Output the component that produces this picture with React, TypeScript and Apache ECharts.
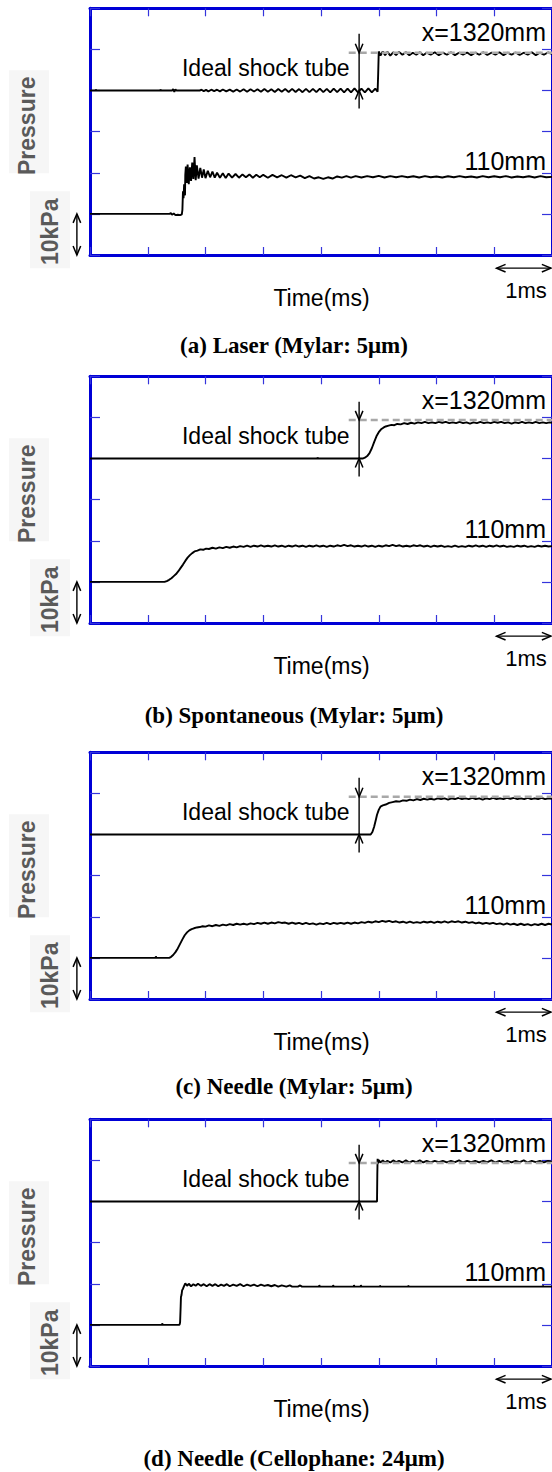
import React, { useEffect, useRef } from "react";
import * as echarts from "echarts";

// ---------- axes (time in ms, pressure in kPa) ----------
const X_MIN = 0, X_MAX = 8, X_STEP = 1;
const Y_MIN = 0, Y_MAX = 60, Y_STEP = 10;

// ---------- labels ----------
const captions = [
  "(a) Laser (Mylar: 5\u03bcm)",
  "(b) Spontaneous (Mylar: 5\u03bcm)",
  "(c) Needle (Mylar: 5\u03bcm)",
  "(d) Needle (Cellophane: 24\u03bcm)",
];
const farLabel = "x=1320mm";
const nearLabel = "110mm";
const idealLabel = "Ideal shock tube";
const xName = "Time(ms)";
const yName = "Pressure";
const yScaleLabel = "10kPa";
const xScaleLabel = "1ms";

// ideal shock tube pressure level (kPa) per panel and its start time
const idealLevels = [49.2, 49.4, 49.2, 49.4];
const idealStart = 4.48;
const idealArrowT = 4.66;
const idealArrowTop = 53.8;
const idealArrowBottom = 35.6;
// scale arrows
const kPaArrow = [-0.227, 0, -0.227, 10];
const msArrow = [7.04, -3.2, 7.98, -3.2];

// ---------- traces [time ms, pressure kPa] ----------
const laserHigh = [[0,40],[0.1,40],[0.1,40.3],[0.11,40],[1.22,40],[1.22,40.3],[1.23,40],[1.42,40],[1.44,40.35],[1.46,39.7],[1.48,40.3],[1.5,40],
[1.9,40],[1.93,40.2],[1.97,39.85],[2.01,40.15],[2.05,39.8],[2.1,40.2],[2.15,39.85],[2.2,40.2],[2.25,39.8],[2.3,40.25],[2.36,39.8],[2.42,40.2],[2.48,39.75],[2.54,40.25],[2.6,39.75],[2.66,40.3],[2.72,39.7],[2.78,40.3],[2.84,39.75],[2.9,40.3],[2.96,39.7],[3.02,40.35],[3.08,39.7],[3.14,40.3],[3.2,39.65],[3.26,40.35],[3.32,39.7],[3.38,40.35],[3.44,39.65],[3.5,40.4],[3.56,39.65],[3.62,40.35],[3.68,39.6],[3.74,40.4],[3.8,39.6],[3.86,40.4],[3.92,39.6],[3.98,40.45],[4.04,39.6],[4.1,40.4],[4.16,39.55],[4.22,40.45],[4.28,39.6],[4.34,40.45],[4.4,39.55],[4.46,40.45],[4.52,39.55],[4.58,40.5],[4.64,39.55],[4.7,40.45],[4.76,39.55],[4.82,40.5],[4.88,39.55],[4.94,40.45],[4.98,39.7],
[4.99,44],[5.0,49.5],[5.03,48.5],[5.07,49.5],[5.11,48.6],[5.15,49.4],[5.2,48.5],[5.25,49.3],[5.3,48.6],[5.35,49.4],[5.41,48.7],[5.47,49.3],[5.53,48.6],[5.59,49.2],[5.65,48.7],[5.71,49.3],[5.77,48.6],[5.83,49.2],[5.9,48.7],[5.97,49.3],[6.04,48.6],[6.11,49.2],[6.18,48.7],[6.25,49.3],[6.32,48.6],[6.39,49.2],[6.46,48.7],[6.53,49.25],[6.6,48.6],[6.67,49.2],[6.74,48.7],[6.81,49.3],[6.88,48.65],[6.95,49.2],[7.02,48.7],[7.09,49.3],[7.16,48.6],[7.23,49.2],[7.3,48.7],[7.37,49.25],[7.44,48.65],[7.51,49.2],[7.58,48.7],[7.65,49.3],[7.72,48.6],[7.79,49.2],[7.86,48.7],[7.93,49.25],[8,48.9]];

const laserLow = [[0,10],[1.38,10],[1.4,10.2],[1.42,9.8],[1.45,10.1],[1.48,9.7],[1.52,9.8],[1.56,9.7],[1.59,9.9],[1.6,11],[1.61,15.5],[1.62,13.8],[1.63,17.2],[1.645,14.5],[1.65,19.5],[1.66,21.5],[1.675,17.5],[1.69,22],[1.71,17.2],[1.73,21.3],[1.75,18],[1.77,22.5],[1.79,18.5],[1.81,23.8],[1.83,18.2],[1.85,21.8],[1.88,18.6],[1.91,21.2],[1.94,18.8],[1.97,20.8],[2.0,18.7],[2.04,20.5],[2.08,18.9],[2.12,20.3],[2.16,18.8],[2.2,20.0],[2.25,18.8],[2.3,19.9],[2.35,18.7],[2.4,19.8],[2.46,18.8],[2.52,19.7],[2.58,18.8],[2.64,19.6],[2.7,18.9],[2.76,19.6],[2.82,18.8],[2.88,19.5],[2.94,18.9],[3.0,19.5],[3.08,18.8],[3.16,19.5],[3.24,18.9],[3.32,19.4],[3.4,18.8],[3.48,19.4],[3.56,18.9],[3.64,19.3],[3.72,18.7],[3.8,19.2],[3.88,18.6],[3.96,18.9],[4.04,18.5],[4.12,18.9],[4.2,18.6],[4.28,19.1],[4.36,18.8],[4.44,19.2],[4.52,18.8],[4.6,19.2],[4.7,18.85],[4.8,19.2],[4.9,18.9],[5.0,19.25],[5.1,18.85],[5.2,19.2],[5.3,18.9],[5.4,19.2],[5.5,18.9],[5.6,19.15],[5.7,18.85],[5.8,19.2],[5.9,18.9],[6.0,19.1],[6.1,18.85],[6.2,19.15],[6.3,18.9],[6.4,19.2],[6.5,18.9],[6.6,19.1],[6.7,18.85],[6.8,19.2],[6.9,18.9],[7.0,19.15],[7.1,18.9],[7.2,19.2],[7.3,18.85],[7.4,19.1],[7.5,18.9],[7.6,19.15],[7.7,18.85],[7.8,19.2],[7.9,18.9],[8,19.0]];

const spontHigh = [[0,40],[3.94,40],[3.94,40.3],[3.95,40],[4.72,40],[4.76,40.2],[4.8,40.6],[4.84,41.3],[4.88,42.5],[4.92,44.0],[4.96,45.4],[5.0,46.4],[5.04,47.1],[5.08,47.5],[5.12,47.8],[5.17,48.0],[5.22,48.2],[5.27,48.1],[5.32,48.4],[5.38,48.3],[5.44,48.6],[5.5,48.4],[5.56,48.7],[5.62,48.5],[5.68,48.8],[5.74,48.6],[5.8,48.9],[5.86,48.6],[5.92,48.8],[5.98,48.6],[6.04,48.9],[6.1,48.7],[6.16,48.9],[6.22,48.6],[6.28,48.8],[6.34,48.6],[6.4,48.9],[6.46,48.6],[6.52,48.8],[6.58,48.5],[6.64,48.8],[6.7,48.6],[6.76,48.9],[6.82,48.6],[6.88,48.8],[6.94,48.6],[7.0,48.9],[7.06,48.7],[7.12,48.9],[7.18,48.6],[7.24,48.8],[7.3,48.5],[7.36,48.8],[7.42,48.6],[7.48,48.9],[7.54,48.6],[7.6,48.8],[7.66,48.6],[7.72,48.9],[7.78,48.6],[7.84,48.8],[7.9,48.6],[7.96,48.8],[8,48.7]];

const spontLow = [[0,10],[1.29,10],[1.33,10.2],[1.37,10.5],[1.41,10.9],[1.45,11.4],[1.49,11.9],[1.53,12.6],[1.57,13.4],[1.61,14.2],[1.65,15.1],[1.69,15.9],[1.73,16.5],[1.77,17.0],[1.81,17.4],[1.86,17.6],[1.91,17.9],[1.96,17.8],[2.01,18.1],[2.06,18.0],[2.12,18.3],[2.18,18.1],[2.24,18.4],[2.3,18.2],[2.36,18.5],[2.42,18.3],[2.48,18.6],[2.54,18.4],[2.6,18.7],[2.66,18.5],[2.72,18.8],[2.78,18.5],[2.84,18.8],[2.9,18.6],[2.96,18.9],[3.02,18.6],[3.08,18.8],[3.14,18.6],[3.2,18.9],[3.26,18.6],[3.32,18.8],[3.38,18.5],[3.44,18.8],[3.5,18.6],[3.56,18.9],[3.62,18.6],[3.68,18.8],[3.74,18.5],[3.8,18.8],[3.86,18.6],[3.92,18.9],[3.98,18.6],[4.04,18.8],[4.1,18.5],[4.16,18.8],[4.22,18.6],[4.28,18.9],[4.34,18.7],[4.4,19.0],[4.46,18.7],[4.52,18.9],[4.58,18.6],[4.64,18.8],[4.7,18.6],[4.76,18.9],[4.82,18.6],[4.88,18.8],[4.94,18.5],[5.0,18.8],[5.06,18.6],[5.12,18.9],[5.18,18.7],[5.24,19.0],[5.3,18.7],[5.36,18.9],[5.42,18.6],[5.48,18.8],[5.54,18.6],[5.6,18.9],[5.66,18.7],[5.72,18.9],[5.78,18.6],[5.84,18.8],[5.9,18.5],[5.96,18.8],[6.02,18.6],[6.08,18.8],[6.14,18.5],[6.2,18.7],[6.26,18.5],[6.32,18.8],[6.38,18.5],[6.44,18.7],[6.5,18.5],[6.56,18.8],[6.62,18.6],[6.68,18.9],[6.74,18.6],[6.8,18.8],[6.86,18.5],[6.92,18.8],[6.98,18.6],[7.04,18.9],[7.1,18.6],[7.16,18.8],[7.22,18.5],[7.28,18.7],[7.34,18.5],[7.4,18.8],[7.46,18.6],[7.52,18.8],[7.58,18.5],[7.64,18.7],[7.7,18.5],[7.76,18.8],[7.82,18.6],[7.88,18.8],[7.94,18.6],[8,18.7]];

const needleHigh = [[0,40],[4.86,40],[4.89,40.6],[4.92,41.9],[4.95,43.6],[4.97,44.8],[5.0,46.0],[5.03,46.8],[5.07,47.1],[5.12,47.3],[5.18,47.7],[5.24,47.9],[5.3,48.1],[5.36,48.0],[5.42,48.3],[5.48,48.2],[5.54,48.5],[5.6,48.3],[5.66,48.6],[5.72,48.4],[5.78,48.7],[5.84,48.5],[5.9,48.7],[5.96,48.5],[6.02,48.8],[6.08,48.6],[6.14,48.8],[6.2,48.5],[6.26,48.8],[6.32,48.6],[6.38,48.9],[6.44,48.6],[6.5,48.8],[6.56,48.6],[6.62,48.9],[6.68,48.6],[6.74,48.8],[6.8,48.5],[6.86,48.8],[6.92,48.6],[6.98,48.9],[7.04,48.6],[7.1,48.8],[7.16,48.6],[7.22,48.9],[7.28,48.7],[7.34,48.9],[7.4,48.6],[7.46,48.8],[7.52,48.6],[7.58,48.9],[7.64,48.6],[7.7,48.8],[7.76,48.6],[7.82,48.9],[7.88,48.6],[7.94,48.8],[8,48.7]];

const needleLow = [[0,10],[1.14,10],[1.14,10.4],[1.15,10],[1.37,10],[1.4,10.2],[1.44,10.7],[1.48,11.4],[1.52,12.3],[1.56,13.4],[1.6,14.5],[1.64,15.5],[1.68,16.2],[1.72,16.7],[1.76,17.0],[1.8,17.2],[1.85,17.4],[1.9,17.5],[1.95,17.7],[2.0,17.6],[2.06,17.9],[2.12,17.7],[2.18,18.0],[2.24,17.8],[2.3,18.1],[2.36,17.9],[2.42,18.2],[2.48,18.0],[2.54,18.3],[2.6,18.1],[2.66,18.3],[2.72,18.1],[2.78,18.4],[2.84,18.2],[2.9,18.5],[2.96,18.3],[3.02,18.6],[3.08,18.3],[3.14,18.6],[3.2,18.4],[3.26,18.7],[3.32,18.5],[3.38,18.6],[3.44,18.3],[3.5,18.6],[3.56,18.3],[3.62,18.5],[3.68,18.2],[3.74,18.5],[3.8,18.2],[3.86,18.4],[3.92,18.1],[3.98,18.4],[4.04,18.2],[4.1,18.5],[4.16,18.2],[4.22,18.5],[4.28,18.3],[4.34,18.5],[4.4,18.3],[4.46,18.6],[4.52,18.3],[4.58,18.6],[4.64,18.4],[4.7,18.7],[4.76,18.5],[4.82,18.8],[4.88,18.6],[4.94,18.9],[5.0,18.7],[5.06,19.0],[5.12,18.8],[5.18,19.0],[5.24,18.7],[5.3,18.9],[5.36,18.6],[5.42,18.8],[5.48,18.5],[5.54,18.8],[5.6,18.5],[5.66,18.7],[5.72,18.5],[5.78,18.8],[5.84,18.6],[5.9,18.8],[5.96,18.5],[6.02,18.8],[6.08,18.6],[6.14,18.9],[6.2,18.6],[6.26,18.9],[6.32,18.7],[6.38,18.9],[6.44,18.6],[6.5,18.8],[6.56,18.5],[6.62,18.7],[6.68,18.4],[6.74,18.6],[6.8,18.3],[6.86,18.5],[6.92,18.3],[6.98,18.5],[7.04,18.2],[7.1,18.4],[7.16,18.1],[7.22,18.4],[7.28,18.1],[7.34,18.3],[7.4,18.0],[7.46,18.3],[7.52,18.0],[7.58,18.2],[7.64,17.9],[7.7,18.2],[7.76,18.0],[7.82,18.3],[7.88,18.0],[7.94,18.3],[8,18.1]];

const cellHigh = [[0,40],[4.97,40],[4.975,46.5],[4.98,50.4],[4.99,49.3],[5.0,50.1],[5.03,49.5],[5.07,50.0],[5.11,49.5],[5.15,49.9],[5.2,49.5],[5.25,50.0],[5.3,49.6],[5.35,49.9],[5.41,49.5],[5.47,50.0],[5.53,49.5],[5.59,49.9],[5.65,49.6],[5.71,50.0],[5.77,49.5],[5.83,49.9],[5.9,49.5],[5.97,49.9],[6.04,49.6],[6.11,49.9],[6.18,49.5],[6.25,49.9],[6.32,49.6],[6.39,50.0],[6.46,49.5],[6.53,49.9],[6.6,49.6],[6.67,49.9],[6.74,49.5],[6.81,49.9],[6.88,49.6],[6.95,50.0],[7.02,49.5],[7.09,49.9],[7.16,49.6],[7.23,49.9],[7.3,49.5],[7.37,49.9],[7.44,49.6],[7.51,50.0],[7.58,49.5],[7.65,49.9],[7.72,49.6],[7.79,49.9],[7.86,49.5],[7.93,49.9],[8,49.7]];

const cellLow = [[0,10],[1.25,10],[1.25,10.4],[1.26,10],[1.55,10],[1.56,10.6],[1.57,14.5],[1.575,16.8],[1.585,17.3],[1.595,18.4],[1.61,18.8],[1.63,19.5],[1.65,20.1],[1.68,19.5],[1.71,20.0],[1.75,19.4],[1.79,19.9],[1.83,19.5],[1.87,20.0],[1.92,19.5],[1.97,19.9],[2.02,19.4],[2.07,19.9],[2.12,19.5],[2.17,19.9],[2.22,19.4],[2.27,19.8],[2.32,19.5],[2.37,19.9],[2.42,19.4],[2.48,19.8],[2.54,19.5],[2.6,19.9],[2.66,19.4],[2.72,19.8],[2.78,19.5],[2.84,19.8],[2.9,19.4],[2.96,19.8],[3.02,19.5],[3.08,19.7],[3.14,19.4],[3.2,19.7],[3.26,19.3],[3.32,19.6],[3.4,19.3],[3.46,19.6],[3.5,19.3],[3.6,19.3],[3.64,19.6],[3.67,19.3],[3.97,19.3],[3.97,19.7],[3.98,19.3],[4.21,19.3],[4.21,19.7],[4.22,19.3],[4.57,19.3],[4.57,19.7],[4.58,19.3],[4.69,19.3],[4.69,19.7],[4.7,19.3],[5.02,19.3],[5.02,19.6],[5.03,19.3],[5.51,19.3],[5.51,19.6],[5.52,19.3],[7.84,19.3],[7.84,19.6],[7.85,19.3],[8,19.3]];

const highTraces = [laserHigh, spontHigh, needleHigh, cellHigh];
const lowTraces = [laserLow, spontLow, needleLow, cellLow];

// ---------- layout (pixels) ----------
const PANEL_TOPS = [8.3, 376.3, 752.3, 1119.3];
const CAPTION_Y = [345, 715, 1086.7, 1458.3];
const GRID_LEFT = 90;
const GRID_W = 465;
const GRID_H = 246.7;
const BLUE = "#0000d6";
const SANS = '"Liberation Sans", Arial, sans-serif';
const SERIF = '"Liberation Serif", "Times New Roman", serif';

function txt(x: number, y: number, text: string, size: number, align: string, extra: any = {}) {
  return {
    type: "text",
    x,
    y,
    silent: true,
    z: 10,
    rotation: extra.rotation || 0,
    style: {
      text,
      fill: extra.fill || "#000",
      font: `${extra.weight || "normal"} ${size}px ${extra.family || SANS}`,
      align,
      verticalAlign: "middle",
      textAlign: align,
      textVerticalAlign: "middle",
    },
  };
}

function arrowRender(params: any, api: any) {
  const p1 = api.coord([api.value(0), api.value(1)]);
  const p2 = api.coord([api.value(2), api.value(3)]);
  const heads = api.value(4);
  const dx = p2[0] - p1[0], dy = p2[1] - p1[1];
  const len = Math.sqrt(dx * dx + dy * dy) || 1;
  const ux = dx / len, uy = dy / len;
  const nx = -uy, ny = ux;
  const L = 9, W = 3.8;
  const children: any[] = [
    { type: "line", shape: { x1: p1[0], y1: p1[1], x2: p2[0], y2: p2[1] }, style: { stroke: "#000", lineWidth: 1.4 } },
  ];
  if (heads >= 1) {
    children.push({
      type: "polyline",
      shape: { points: [[p2[0] - ux * L + nx * W, p2[1] - uy * L + ny * W], [p2[0], p2[1]], [p2[0] - ux * L - nx * W, p2[1] - uy * L - ny * W]] },
      style: { stroke: "#000", fill: null, lineWidth: 1.5 },
    });
  }
  if (heads >= 2) {
    children.push({
      type: "polyline",
      shape: { points: [[p1[0] + ux * L + nx * W, p1[1] + uy * L + ny * W], [p1[0], p1[1]], [p1[0] + ux * L - nx * W, p1[1] + uy * L - ny * W]] },
      style: { stroke: "#000", fill: null, lineWidth: 1.5 },
    });
  }
  return { type: "group", children };
}

function buildOption() {
  const grid: any[] = [];
  const xAxis: any[] = [];
  const yAxis: any[] = [];
  const series: any[] = [];
  const graphic: any[] = [];
  const frame = { color: BLUE, width: 3 };
  const tick = { color: "#3535dc", width: 1.2 };

  PANEL_TOPS.forEach((T, i) => {
    grid.push({ left: GRID_LEFT, top: T, width: GRID_W, height: GRID_H, containLabel: false });
    ["bottom", "top"].forEach((pos) =>
      xAxis.push({
        type: "value", gridIndex: i, position: pos, min: X_MIN, max: X_MAX, interval: X_STEP,
        axisLine: { show: true, onZero: false, lineStyle: frame },
        axisTick: { show: true, inside: true, length: 8, lineStyle: tick },
        axisLabel: { show: false }, splitLine: { show: false },
      })
    );
    ["left", "right"].forEach((pos) =>
      yAxis.push({
        type: "value", gridIndex: i, position: pos, min: Y_MIN, max: Y_MAX, interval: Y_STEP,
        axisLine: { show: true, onZero: false, lineStyle: frame },
        axisTick: { show: true, inside: true, length: 10, lineStyle: tick },
        axisLabel: { show: false }, splitLine: { show: false },
      })
    );
    const ax = { xAxisIndex: 2 * i, yAxisIndex: 2 * i };
    series.push({
      type: "line", ...ax, data: lowTraces[i], symbol: "none", z: 3, silent: true,
      lineStyle: { color: "#000", width: 1.9 },
    });
    series.push({
      type: "line", ...ax, data: highTraces[i], symbol: "none", z: 3, silent: true,
      lineStyle: { color: "#000", width: 1.9 },
    });
    series.push({
      type: "line", ...ax, data: [[idealStart, idealLevels[i]], [X_MAX, idealLevels[i]]], symbol: "none", z: 4, silent: true,
      lineStyle: { color: "#a8a8a8", width: 2.5, type: [7, 4] },
    });
    series.push({
      type: "custom", ...ax, clip: false, silent: true, z: 5,
      encode: { x: [0, 2], y: [1, 3] },
      data: [
        [idealArrowT, idealArrowTop, idealArrowT, idealLevels[i], 1],
        [idealArrowT, idealLevels[i], idealArrowT, 40, 0],
        [idealArrowT, idealArrowBottom, idealArrowT, 40, 1],
        [kPaArrow[0], kPaArrow[1], kPaArrow[2], kPaArrow[3], 2],
        [msArrow[0], msArrow[1], msArrow[2], msArrow[3], 2],
      ],
      renderItem: arrowRender,
    });

    // texts
    graphic.push({ type: "rect", silent: true, z: 1, shape: { x: 9, y: T + 62, width: 40, height: 103 }, style: { fill: "#f6f6f6" } });
    graphic.push({ type: "rect", silent: true, z: 1, shape: { x: 30, y: T + 183, width: 40, height: 77 }, style: { fill: "#f6f6f6" } });
    graphic.push(txt(27, T + 117.5, yName, 23, "center", { rotation: Math.PI / 2, fill: "#5a5a5a", weight: "bold" }));
    graphic.push(txt(49.5, T + 223.5, yScaleLabel, 23, "center", { rotation: Math.PI / 2, fill: "#5a5a5a", weight: "bold" }));
    graphic.push(txt(546, T + 23.5, farLabel, 25, "right"));
    graphic.push(txt(349.5, T + 60, idealLabel, 23, "right"));
    graphic.push(txt(546, T + 152.5, nearLabel, 25, "right"));
    graphic.push(txt(321.5, T + 290, xName, 23, "center"));
    graphic.push(txt(526, T + 282, xScaleLabel, 22, "center"));
    graphic.push(txt(294, CAPTION_Y[i], captions[i], 23, "center", { weight: "bold", family: SERIF }));
  });

  return {
    animation: false,
    backgroundColor: "#ffffff",
    tooltip: { show: false },
    grid,
    xAxis,
    yAxis,
    series,
    graphic: { elements: graphic },
  };
}

export default function App() {
  const ref = useRef<HTMLDivElement>(null);
  useEffect(() => {
    if (!ref.current) return;
    const chart = echarts.init(ref.current, undefined, { renderer: "svg" });
    chart.setOption(buildOption() as any);
    return () => chart.dispose();
  }, []);
  return (
    <div
      ref={ref}
      style={{ position: "absolute", left: 0, top: 0, width: 552, height: 1472, background: "#fff" }}
    />
  );
}
